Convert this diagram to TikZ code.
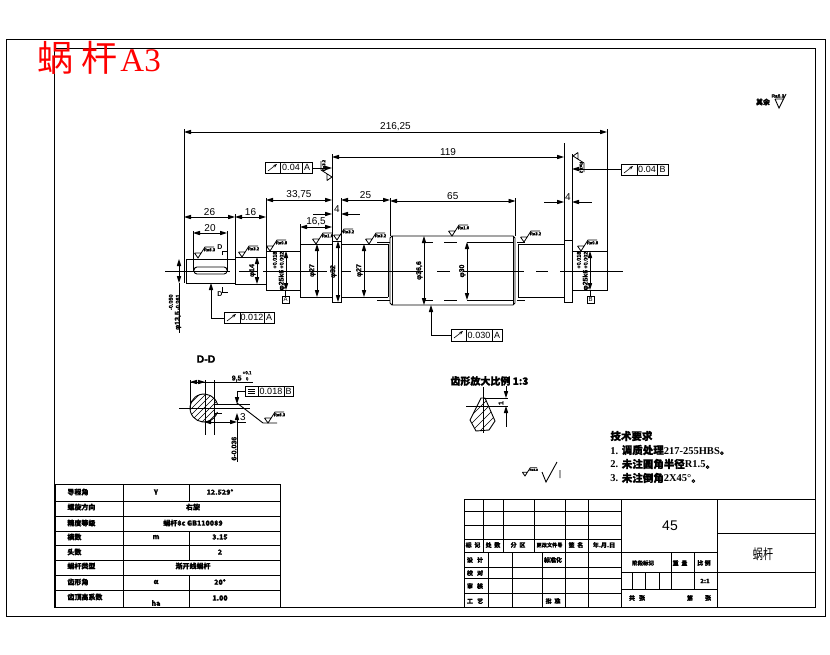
\documentclass[tikz,border=0pt]{standalone}
\usepackage{fontspec}
\setmainfont{Liberation Sans}
\newfontfamily\cjk{Noto Sans CJK SC}[BoldFeatures={FakeBold=1.2}]
\newfontfamily\serifcn{Liberation Serif}
\newfontfamily\heavy{Liberation Sans}[BoldFeatures={FakeBold=1.5}]
\usetikzlibrary{arrows.meta}

\newcommand{\dimfont}{\fontsize{10}{10}\selectfont}
\newcommand{\smallbold}{\heavy\fontsize{7}{7}\selectfont\bfseries}
\newcommand{\cellfont}{\cjk\fontsize{7}{7}\selectfont\bfseries}
\newcommand{\framefont}{\fontsize{9}{9}\selectfont}

\tikzset{
    >={Stealth[length=7pt,width=4.2pt,inset=0pt]},
    dimtext/.style={font=\dimfont,inner sep=1pt},
    phitext/.style={font=\smallbold,inner sep=1pt,rotate=90},
    celltext/.style={font=\cellfont,inner sep=0pt},
    pics/rough/.style={code={
        \draw[line width=.8pt] (-3.5,-5) -- (3.5,-5) (-3.5,-5) -- (0,0) -- (7,-11) -- (16,-11);
        \node[font=\heavy\fontsize{4.2}{4.2}\selectfont\bfseries,inner sep=0pt,transform shape] at (11.5,-8.2) {#1};
    }}
}

\begin{document}
\begin{tikzpicture}[x=1pt,y=-1pt,line width=.9pt]
    \useasboundingbox (0,0) rectangle (830,654);
    % frames
    \draw (6,39) rectangle (825,616);
    \draw (54,48) rectangle (815,607);
    \node[red,inner sep=0pt,anchor=west] at (37,58) {\cjk\fontsize{36}{36}\selectfont 蜗\hspace{8pt}杆\hspace{3pt}\serifcn\fontsize{33}{33}\selectfont A3};

    % centre line
    \foreach \a/\b in {165/230,239/258,263/327,342/351,360/423,437/450,463/524,536/548,560/623}
        \draw (\a,271) -- (\b,271);

    % shaft
    \draw (186,259) -- (235,259) -- (235,283) -- (186,283) -- cycle;
    \draw (235,257) rectangle (266,284);
    \draw (266,251) rectangle (300,290);
    \draw (300,244) rectangle (332,297);
    \draw (332,241) rectangle (341,302);
    \draw (341,244) -- (388,244) (341,297) -- (388,297);
    \draw (388,244) -- (388,297);
    % gear
    \draw (392,236) -- (513,236) -- (515,238) -- (515,303) -- (513,305) -- (392,305) -- (390,303) -- (390,238) -- cycle;
    \draw (392,236) -- (392,305) (513,236) -- (513,305);
    \draw (518,244) -- (518,297);
    \foreach \a/\b in {425/433,444/457,467/513,517/525}
        \draw (\a,242) -- (\b,242) (\a,300) -- (\b,300);
    \draw (377,300) -- (390,300) (377,242) -- (390,242);
    \draw (518,244) -- (564,244) (518,297) -- (564,297);
    \draw (564,240) rectangle (572,302);
    \draw (572,251) rectangle (607,290);
    % keyway
    \draw[rounded corners=3pt] (194,267) rectangle (227,274);

    % extension lines
    \draw (184,129) -- (184,283);
    \draw (607,129) -- (607,251);
    \draw (235,214) -- (235,257);
    \draw (266,198) -- (266,251);
    \draw (300,224) -- (300,244);
    \draw (332,154) -- (332,241);
    \draw (341,198) -- (341,241);
    \draw (390,198) -- (390,236);
    \draw (515.5,198) -- (515.5,236);
    \draw (564,143) -- (564,240);
    \draw (572,154) -- (572,240);
    \draw (193,231) -- (193,271);
    \draw (227,231) -- (227,271);

    % linear dimensions
    \draw[<->] (184,132) -- (607,132) node[midway,above,dimtext] {216,25};
    \draw[<->] (332,157) -- (564,157) node[midway,above,dimtext] {119};
    \draw[<->] (266,200) -- (332,200) node[midway,above,dimtext] {33,75};
    \draw[<->] (341,200) -- (390,200) node[midway,above,dimtext] {25};
    \draw[<->] (390,201) -- (515.5,201) node[midway,above,dimtext] {65};
    \draw[<->] (184,217) -- (235,217) node[midway,above,dimtext] {26};
    \draw[<->] (235,217) -- (266,217) node[midway,above,dimtext] {16};
    \draw[<->] (300,227) -- (332,227) node[midway,above,dimtext] {16,5};
    \draw[<->] (193,233) -- (227,233) node[midway,above,dimtext] {20};
    \draw[<-] (332,214) -- (313,214);
    \draw[<-] (341,214) -- (360,214);
    \node[dimtext] at (337,209) {4};
    \draw[<-] (564,202) -- (544,202);
    \draw[<-] (572,202) -- (592,202);
    \node[dimtext] at (568,197) {4};

    % diameters
    \draw[<->] (179,259) -- (179,283);
    \draw (179,283) -- (179,333);
    \node[phitext,anchor=east] at (175,293) {φ13,5\,\shortstack{\fontsize{5.5}{5.5}\selectfont -0.050\\\fontsize{5.5}{5.5}\selectfont -0.061}};
    \draw[<->] (257,257) -- (257,284) node[midway,above,phitext] {φ14};
    \draw[<->] (286,251) -- (286,290);
    \node[phitext] at (279,271) {φ25k6\,\shortstack{\fontsize{5.5}{5.5}\selectfont +0.018\\\fontsize{5.5}{5.5}\selectfont +0.002}};
    \draw[<->] (317,244) -- (317,297) node[midway,above,phitext] {φ27};
    \draw[<->] (338,241) -- (338,302) node[midway,above,phitext] {φ32};
    \draw[<->] (364,244) -- (364,297) node[midway,above,phitext] {φ27};
    \draw[<->] (424,236) -- (424,305) node[midway,above,phitext] {φ36,6};
    \draw[<->] (467,242) -- (467,300) node[midway,above,phitext] {φ30};
    \draw[<->] (590,251) -- (590,290);
    \node[phitext] at (583,271) {φ25k6\,\shortstack{\fontsize{5.5}{5.5}\selectfont +0.018\\\fontsize{5.5}{5.5}\selectfont +0.002}};

    % roughness symbols
    \pic at (198,258) {rough=Ra6.3};
    \pic at (242,257) {rough=Ra3.2};
    \pic at (270,251) {rough=Ra0.8};
    \pic at (316,244) {rough=Ra1.6};
    \pic at (337,240) {rough=Ra3.2};
    \pic at (369,244) {rough=Ra3.2};
    \pic at (452,236) {rough=Ra1.6};
    \pic at (524,242) {rough=Ra3.2};
    \pic at (581,251) {rough=Ra0.8};
    \pic[rotate=90] at (332,177) {rough=Ra3.2};
    \pic[rotate=-90] at (573,156) {rough=Ra3.2};
    % other surfaces
    \node[font=\cellfont,inner sep=0pt] at (763,102) {其余};
    \draw (775,99) -- (783,99) (775,99) -- (779,108) -- (786,94);
    \node[font=\heavy\fontsize{4.8}{4.8}\selectfont\bfseries,inner sep=0pt] at (778,96) {Ra6.3};
    \pic[scale=.75] at (525,476) {rough=Ra6.3};
    \draw (542,472) -- (546,482) -- (557,462) (560,470) -- (560,478);

    % D marks
    \node[font=\fontsize{7}{7}\selectfont\bfseries,inner sep=0pt] at (220,247) {D};
    \draw (222,255) -- (222,251) -- (228,251);
    \node[font=\fontsize{7}{7}\selectfont\bfseries,inner sep=0pt] at (220,294) {D};
    \draw (222,287) -- (222,292) -- (228,292);

    % tolerance frames
    \foreach \xa/\xb/\xc/\xd/\ya/\yb/\tv/\dat in {
        265/280/302/312/162/173/0.04/A,
        224/240/264/274/312/323/0.012/A,
        621/637/657/668/164/175/0.04/B,
        451/466/492/502/329/341/0.030/A,
        245/258/284/293/386/396/0.018/B}
    {
        \draw (\xa,\ya) rectangle (\xd,\yb);
        \draw (\xb,\ya) -- (\xb,\yb) (\xc,\ya) -- (\xc,\yb);
        \node[font=\framefont,inner sep=0pt] at ({(\xb+\xc)/2},{(\ya+\yb)/2}) {\tv};
        \node[font=\framefont,inner sep=0pt] at ({(\xc+\xd)/2},{(\ya+\yb)/2}) {\dat};
    }
    \foreach \xa/\ya in {265/162,224/312,621/164,451/329}
        \draw[-{Stealth[length=4pt,width=3pt]},line width=.6pt] ({\xa+3},{\ya+9}) -- ({\xa+12},{\ya+2});
    \draw (248,391) -- (255,391) (248,389) -- (255,389) (248,393) -- (255,393);
    \draw[->] (312,168) -- (332,168);
    \draw[->] (224,318) -- (211,318) -- (211,283);
    \draw[->] (621,169) -- (572,169);
    \draw[->] (451,335) -- (431,335) -- (431,305);

    % datum boxes
    \draw (285.5,290) -- (285.5,296);
    \draw (282,296) rectangle (289,303);
    \node[font=\fontsize{6}{6}\selectfont,inner sep=0pt] at (285.5,299.5) {A};
    \draw (590,290) -- (590,296);
    \draw (587,296) rectangle (594,303);
    \node[font=\fontsize{6}{6}\selectfont,inner sep=0pt] at (590.5,299.5) {B};

    % section D-D
    \node[font=\heavy\fontsize{10.5}{10.5}\selectfont\bfseries,inner sep=0pt] at (206,359) {D-D};
    \begin{scope}
        \clip (204,408) circle (14pt);
        \foreach \s in {-24,-18,...,24}
            \draw[line width=.5pt] ({204+\s-16},424) -- ({204+\s+16},392);
        \fill[white] (214,404) rectangle (222,413);
    \end{scope}
    \draw (217.4,404) arc (16.6:343.4:14pt);
    \draw (214,404) -- (250,404) (214,413) -- (222,413) (214,404) -- (214,413);
    \draw (179,408) -- (250,408);
    \draw (190,380) -- (190,408) (205,380) -- (205,435) (214,380) -- (214,435);
    \draw (190,382) -- (253,382);
    \draw[<->] (190,382) -- (205,382);
    \node[font=\smallbold,inner sep=1pt,anchor=south east] at (253,383) {9,5\,\shortstack{\fontsize{4.5}{4.5}\selectfont +0.1\\\fontsize{4.5}{4.5}\selectfont 0}};
    \draw[->] (245,391) -- (237,391) -- (237,404);
    \draw[<-] (237,413) -- (237,462);
    \node[phitext,anchor=west] at (234,462) {6-0.036};
    \draw[<->] (204,422) -- (237,422);
    \draw (237,422) -- (246,422);
    \node[dimtext] at (243,417) {3};
    \draw (237,403) -- (263,423) -- (277,423);
    \pic at (268,423) {rough=Ra6.3};

    % tooth detail
    \node[font=\cjk\fontsize{10}{10}\selectfont\bfseries,inner sep=0pt,anchor=west] at (450,381) {齿形放大比例 1:3};
    \begin{scope}
        \clip (481,398) -- (485,398) -- (495,421) -- (489,430) -- (476,431) -- (470,420) -- cycle;
        \foreach \s in {-24,-16,...,24}
            \draw[line width=.5pt] ({483+\s-20},440) -- ({483+\s+20},400);
    \end{scope}
    \draw (481,398) -- (485,398) -- (495,421) -- (489,430) -- (476,431) -- (470,420) -- cycle;
    \draw (483,387) -- (483,433);
    \draw (483,398) -- (508,398);
    \draw (466,406) -- (508,406);
    \draw[->] (506,386) -- (506,398);
    \draw[<-] (506,406) -- (506,427);
    \node[phitext] at (501,403) {1};

    % technical notes
    \begin{scope}[every node/.style={font=\cjk\fontsize{10.5}{10.5}\selectfont\bfseries,inner sep=0pt,anchor=west}]
        \node at (610,436) {技术要求};
        \node at (610,450) {{\serifcn 1. }调质处理{\serifcn 217-255HBS}。};
        \node at (610,464) {{\serifcn 2. }未注圆角半径{\serifcn R1.5}。};
        \node at (610,478) {{\serifcn 3. }未注倒角{\serifcn 2X45°}。};
    \end{scope}

    % parameter table
    \draw (55,484) rectangle (280,607);
    \foreach \y in {501,516,531,545,560,575,590}
        \draw (55,\y) -- (280,\y);
    \draw (123,484) -- (123,607);
    \draw (189,484) -- (189,501) (189,531) -- (189,560) (189,575) -- (189,607);
    \foreach \y/\t in {492/导程角,507/螺旋方向,523/精度等级,537/模数,552/头数,566/蜗杆类型,582/齿形角,597/齿顶高系数}
        \node[celltext,anchor=west] at (67,\y) {\t};
    \node[celltext] at (156,492) {γ};
    \node[celltext] at (156,537) {m};
    \node[celltext] at (156,582) {α};
    \node[celltext] at (156,603) {ha};
    \node[celltext] at (220,492) {12.529°};
    \node[celltext] at (220,537) {3.15};
    \node[celltext] at (220,552) {2};
    \node[celltext] at (220,582) {20°};
    \node[celltext] at (220,598) {1.00};
    \node[celltext] at (193,507) {右旋};
    \node[celltext] at (193,523) {蜗杆8c GB110089};
    \node[celltext] at (193,566) {渐开线蜗杆};

    % title block
    \draw (464,499) rectangle (815,607);
    \foreach \y in {511,525,539,552}
        \draw (464,\y) -- (621,\y);
    \foreach \x in {483,503,534,565,588}
        \draw (\x,499) -- (\x,552);
    \foreach \y in {567,578,593}
        \draw (464,\y) -- (621,\y);
    \foreach \x in {488,512,542,565,588}
        \draw (\x,552) -- (\x,607);
    \draw (621,499) -- (621,607) (717,499) -- (717,607);
    \draw (621,552) -- (717,552) (621,572) -- (815,572) (621,589) -- (717,589);
    \draw (717,533) -- (815,533);
    \draw (671,552) -- (671,589) (694,552) -- (694,589);
    \foreach \x in {632,645,659}
        \draw (\x,572) -- (\x,589);
    \foreach \x/\t in {473/标\ \ 记,493/处\ \ 数,518/分\ \ 区,576/签\ \ 名,604/年.月.日}
        \node[celltext,font=\cjk\fontsize{6}{6}\selectfont\bfseries] at (\x,545) {\t};
    \node[celltext,font=\cjk\fontsize{5.2}{5.2}\selectfont\bfseries] at (549.5,545) {更改文件号};
    \foreach \y/\t in {560/设\ \ \ 计,573/校\ \ \ 对,586/审\ \ \ 核,601/工\ \ \ 艺}
        \node[celltext,font=\cjk\fontsize{6}{6}\selectfont\bfseries] at (475,\y) {\t};
    \node[celltext,font=\cjk\fontsize{6}{6}\selectfont\bfseries] at (553,560) {标准化};
    \node[celltext,font=\cjk\fontsize{6}{6}\selectfont\bfseries] at (553,601) {批\ \ 准};
    \node[celltext,font=\cjk\fontsize{5.5}{5.5}\selectfont\bfseries] at (643,563) {阶段标记};
    \node[celltext,font=\cjk\fontsize{6}{6}\selectfont\bfseries] at (680,563) {重\ \ 量};
    \node[celltext,font=\cjk\fontsize{6}{6}\selectfont\bfseries] at (704,563) {比\ 例};
    \node[celltext,font=\cjk\fontsize{6}{6}\selectfont\bfseries] at (705,581) {2:1};
    \foreach \x/\t in {632/共,642/张,690/第,708/张}
        \node[celltext,font=\cjk\fontsize{6}{6}\selectfont\bfseries] at (\x,598) {\t};
    \node[font=\fontsize{14}{14}\selectfont,inner sep=0pt] at (670,526) {45};
    \node[font=\cjk\fontsize{14}{14}\selectfont,inner sep=0pt,xscale=.72] at (763,554) {蜗杆};
\end{tikzpicture}
\end{document}
